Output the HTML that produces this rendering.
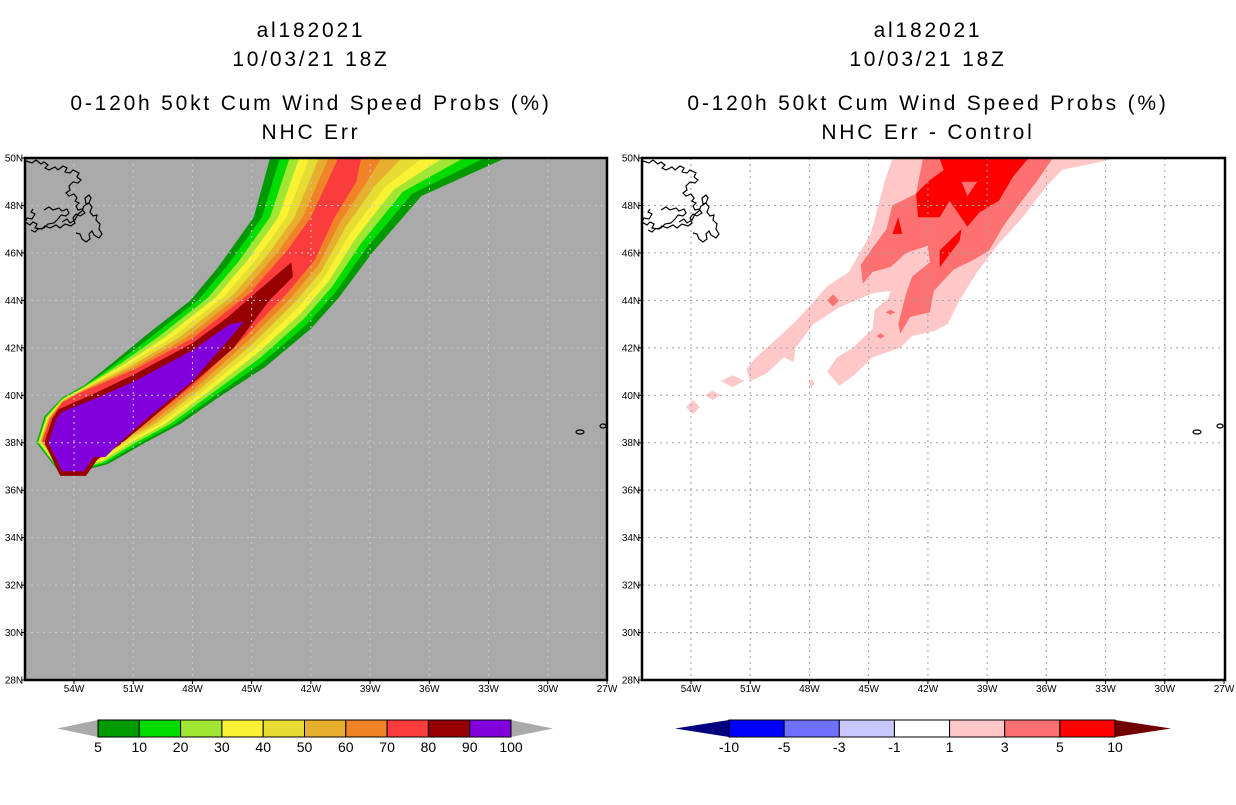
<!DOCTYPE html>
<html><head><meta charset="utf-8">
<style>
html,body{margin:0;padding:0;background:#fff;}
body{width:1236px;height:800px;overflow:hidden;font-family:"Liberation Sans",sans-serif;}
svg text{font-family:"Liberation Sans",sans-serif;}
</style></head>
<body>
<svg id="main" width="1236" height="800" viewBox="0 0 1236 800" xmlns="http://www.w3.org/2000/svg">
<defs>
<clipPath id="clipL"><rect x="25" y="158" width="582" height="522"/></clipPath>
<clipPath id="clipR"><rect x="642" y="158" width="583" height="522"/></clipPath>
</defs>
<g font-size="21" text-anchor="middle" fill="#000" letter-spacing="2.8">
<text x="311" y="37">al182021</text>
<text x="311" y="66">10/03/21 18Z</text>
<text x="311" y="110">0-120h 50kt Cum Wind Speed Probs (%)</text>
<text x="311" y="139">NHC Err</text>
</g>
<g font-size="21" text-anchor="middle" fill="#000" letter-spacing="2.8">
<text x="928" y="37">al182021</text>
<text x="928" y="66">10/03/21 18Z</text>
<text x="928" y="110">0-120h 50kt Cum Wind Speed Probs (%)</text>
<text x="928" y="139">NHC Err - Control</text>
</g>
<rect x="25" y="158" width="582" height="522" fill="#aaaaaa"/>
<rect x="642" y="158" width="583" height="522" fill="#ffffff"/>
<g id="leftFill" clip-path="url(#clipL)"></g>
<g id="rightFill" clip-path="url(#clipR)"></g>
<g id="grid"></g>
<g id="coast"></g>
<rect x="25" y="158" width="582" height="522" fill="none" stroke="#000" stroke-width="2.5"/>
<rect x="642" y="158" width="583" height="522" fill="none" stroke="#000" stroke-width="2.5"/>
<g id="axes"></g>
<g id="cbars"></g>
</svg>
<script>
// ---- data (lon, lat) ----
const lonTicks = [-54,-51,-48,-45,-42,-39,-36,-33,-30,-27];
const lonLabels = ["54W","51W","48W","45W","42W","39W","36W","33W","30W","27W"];
const latTicks = [28,30,32,34,36,38,40,42,44,46,48,50];
const latLabels = ["28N","30N","32N","34N","36N","38N","40N","42N","44N","46N","48N","50N"];
// left: 5% envelope and 70% envelope, tip -> north
const outerLeftEdge = [[-55.9,38.0],[-55.5,39.1],[-54.6,39.9],[-53.5,40.4],[-52.0,41.4],[-50.4,42.5],[-48.1,44.0],[-46.7,45.4],[-44.9,47.5],[-44.0,50.2]];
const redLeftEdge = [[-55.6,38.1],[-55.2,39.0],[-54.6,39.7],[-53.7,40.1],[-50.9,41.1],[-48.0,42.4],[-45.1,44.3],[-43.2,46.1],[-42.0,47.5],[-40.5,50.2]];
const outerRightEdge = [[-54.6,36.6],[-52.3,37.1],[-50.4,38.0],[-48.6,38.8],[-46.7,39.9],[-44.3,41.2],[-42.0,42.8],[-40.6,44.1],[-38.9,46.0],[-36.4,48.4],[-31.6,50.2]];
const redRightEdge = [[-54.6,36.9],[-53.0,37.4],[-52.1,38.0],[-50.4,38.8],[-48.0,40.4],[-45.3,42.5],[-43.2,44.3],[-41.8,45.7],[-40.8,47.5],[-39.7,49.0],[-39.4,50.2]];
const darkRedArea = [[-43.0,45.6],[-42.9,45.0],[-44.1,44.0],[-45.9,42.0],[-48.0,40.5],[-50.4,38.8],[-51.7,37.9],[-52.8,37.3],[-53.4,36.6],[-54.7,36.6],[-55.5,38.0],[-55.1,39.0],[-54.8,39.4],[-52.9,40.1],[-50.9,40.9],[-48.0,42.2],[-46.2,43.3],[-45.1,44.1]];
const purpleArea = [[-54.6,39.3],[-52.8,39.9],[-50.9,40.6],[-48.0,41.9],[-46.1,43.0],[-45.4,43.1],[-46.0,42.5],[-48.0,40.6],[-50.2,39.1],[-51.7,38.0],[-52.4,37.4],[-53.0,37.4],[-53.5,36.8],[-54.6,36.8],[-55.3,38.0],[-54.9,39.0]];
const probLevels = [5,10,20,30,40,50,60,70];
const probColors = ["#009a00","#00dc00","#a0e632","#f8f232","#e6dc32","#e6af2d","#f08228","#fa3c3c"];
// right: difference areas
const pinkArea = [[-43.7,50.2],[-44.2,49.0],[-44.9,46.8],[-46.0,45.2],[-47.1,44.6],[-48.6,43.2],[-49.5,42.5],[-50.7,41.6],[-51.2,41.1],[-51.0,40.6],[-50.2,40.9],[-49.3,41.6],[-48.8,41.4],[-48.7,42.0],[-47.8,43.0],[-46.5,43.7],[-44.8,44.3],[-43.9,44.4],[-44.0,44.1],[-44.7,43.6],[-44.8,42.8],[-45.8,42.0],[-46.6,41.6],[-47.1,41.0],[-46.5,40.4],[-45.8,40.8],[-44.8,41.6],[-43.4,42.0],[-42.8,42.5],[-41.7,42.7],[-41.0,43.0],[-40.4,44.0],[-39.5,45.2],[-38.5,46.3],[-37.2,47.5],[-36.0,48.8],[-35.2,49.5],[-32.9,49.9],[-32.1,50.2]];
const pinkBlobs = [[-53.9,39.5,0.35,0.3],[-52.9,40.0,0.4,0.2],[-51.9,40.6,0.6,0.25],[-47.9,40.5,0.15,0.2]];
const salmonArea = [[-42.2,50.2],[-42.6,48.5],[-43.8,48.0],[-44.1,47.0],[-44.9,46.1],[-45.4,45.5],[-45.3,44.7],[-44.8,45.2],[-43.9,45.4],[-43.1,46.0],[-42.0,46.3],[-41.9,45.6],[-42.8,45.0],[-43.1,44.3],[-43.5,43.0],[-43.4,42.6],[-42.9,43.3],[-41.9,43.5],[-41.7,44.4],[-40.7,45.3],[-39.7,45.7],[-38.9,46.1],[-38.2,47.1],[-37.5,47.9],[-36.5,49.0],[-35.5,50.2]];
const salmonBlobs = [[-46.8,44.0,0.3,0.25],[-43.9,43.5,0.25,0.1],[-44.4,42.5,0.2,0.12]];
const redArea = [[-41.5,50.2],[-41.2,49.5],[-42.0,49.0],[-42.6,48.5],[-42.5,47.5],[-41.4,47.5],[-40.9,48.2],[-40.0,47.1],[-39.4,47.7],[-38.4,48.2],[-37.7,49.2],[-36.7,50.2]];
const redHole = [[-40.3,49.0],[-39.5,49.0],[-40.0,48.4]];
const redSpots = [[[-43.5,47.5],[-43.8,46.8],[-43.3,46.8]],[[-41.4,46.1],[-40.3,47.0],[-40.4,46.5],[-41.4,45.4]]];
const leftCbarLabels = ["5","10","20","30","40","50","60","70","80","90","100"];
const leftCbarColors = ["#009a00","#00dc00","#a0e632","#f8f232","#e6dc32","#e6af2d","#f08228","#fa3c3c","#960000","#8200dc"];
const rightCbarLabels = ["-10","-5","-3","-1","1","3","5","10"];
const rightCbarColors = ["#0000ff","#7070ff","#c8c8ff","#ffffff","#ffc8c8","#ff7070","#ff0000"];

// ---- projection ----
const NS="http://www.w3.org/2000/svg";
function xL(lon){return 607+(lon+27)*19.74;}
function xR(lon){return 1224+(lon+27)*19.74;}
function yy(lat){return 680-(lat-28)*23.727;}
function mk(tag,attrs,parent){const e=document.createElementNS(NS,tag);for(const k in attrs)e.setAttribute(k,attrs[k]);parent.appendChild(e);return e;}
function pts(arr,fx){return arr.map(p=>fx(p[0]).toFixed(1)+","+yy(p[1]).toFixed(1)).join(" ");}
function lerp(a,b,t){return a.map((p,i)=>[p[0]+(b[i][0]-p[0])*t,p[1]+(b[i][1]-p[1])*t]);}

const LF=document.getElementById('leftFill');
probLevels.forEach((lev,i)=>{
  const t=i/(probLevels.length-1);
  const L=lerp(outerLeftEdge,redLeftEdge,t);
  const R=lerp(outerRightEdge,redRightEdge,t);
  const poly=L.concat(R.slice().reverse());
  const el=mk('polygon',{points:pts(poly,xL),fill:probColors[i]},LF);
  
  
});
let e1=mk('polygon',{points:pts(darkRedArea,xL),fill:"#960000"},LF);


let e2=mk('polygon',{points:pts(purpleArea,xL),fill:"#8200dc"},LF);



const RF=document.getElementById('rightFill');
function blob(b,col,nm){
  const d=[[b[0]-b[2],b[1]],[b[0],b[1]+b[3]],[b[0]+b[2],b[1]],[b[0],b[1]-b[3]]];
  const el=mk('polygon',{points:pts(d,xR),fill:col},RF);
  
  
}
let r1=mk('polygon',{points:pts(pinkArea,xR),fill:"#ffc8c8"},RF);


pinkBlobs.forEach(b=>blob(b,"#ffc8c8",'diff-spot-1-3'));
let r2=mk('polygon',{points:pts(salmonArea,xR),fill:"#ff7070"},RF);


salmonBlobs.forEach(b=>blob(b,"#ff7070",'diff-spot-3-5'));
let r3=mk('polygon',{points:pts(redArea,xR),fill:"#ff0000"},RF);


let r4=mk('polygon',{points:pts(redHole,xR),fill:"#ff7070"},RF);


redSpots.forEach(s=>{
  const el=mk('polygon',{points:pts(s,xR),fill:"#ff0000"},RF);
  
  
});

// grid
const G=document.getElementById('grid');
[[xL,25,607,"#c8c8c8"],[xR,642,1225,"#a0a0a0"]].forEach(([fx,x0,x1,col])=>{
  lonTicks.slice(0,-1).forEach(lon=>{
    const l=mk('line',{x1:fx(lon),x2:fx(lon),y1:158,y2:680,stroke:col,'stroke-width':1,'stroke-dasharray':'2,4'},G);
    
    
  });
  latTicks.slice(1,-1).forEach(lat=>{
    const l=mk('line',{x1:x0,x2:x1,y1:yy(lat),y2:yy(lat),stroke:col,'stroke-width':1,'stroke-dasharray':'2,4'},G);
    
    
  });
});

// coastlines (Newfoundland + Azores)
const C=document.getElementById('coast');
const nfl="M26,161 l6,2 4,-3 5,4 3,-2 4,3 -3,3 4,2 6,-3 3,3 5,-4 4,2 -2,4 5,1 3,-3 6,3 -2,4 4,3 -3,3 -5,-1 -4,4 1,4 -4,3 3,3 5,-2 3,4 -2,3 4,2 -3,3 2,4 4,-1 3,4 -5,3 -4,-2 -3,4 2,5 -4,3 -6,-2 -5,4 -4,-3 -6,3 -5,-2 -3,3 -7,-1 2,-4 -4,-2 -3,3 -5,-3 2,-4 5,1 3,-5 -4,-2 2,-3 M44,210 l5,-3 4,3 6,-2 3,3 5,-2 2,4 -3,3 -5,-1 -3,4 -4,4 -6,1 -4,4 -6,1 -3,3 -4,-2 M62,222 l5,-3 3,4 5,-3 3,-6 4,-3 2,-5 5,-3 3,4 -2,5 3,4 4,-1 -1,5 4,4 -1,5 3,5 -3,4 -5,-3 -2,-4 -3,3 1,5 -4,3 -4,-3 -2,-5 -4,-1 M85,198 l4,-3 2,3 -2,5 -3,1 z";
let c1=mk('path',{d:nfl,fill:"none",stroke:"#000","stroke-width":1.2},C);


let c2=mk('path',{d:nfl,fill:"none",stroke:"#000","stroke-width":1.2,transform:"translate(617,0)"},C);


[0,617].forEach(dx=>{
  const a=mk('ellipse',{cx:580+dx,cy:432,rx:4,ry:2,fill:"none",stroke:"#000","stroke-width":1.2},C);
  
  
  const b=mk('ellipse',{cx:603+dx,cy:426,rx:3,ry:2,fill:"none",stroke:"#000","stroke-width":1.2},C);
  
  
});

// axis labels
const A=document.getElementById('axes');
[[xL,25,14],[xR,642,631]].forEach(([fx,x0,lx])=>{
  lonTicks.forEach((lon,i)=>{
    const t=mk('text',{x:fx(lon),y:692,'font-size':10,'text-anchor':'middle',fill:'#000'},A);
    t.textContent=lonLabels[i];
    
    
    mk('line',{x1:fx(lon),x2:fx(lon),y1:680,y2:684,stroke:'#000','stroke-width':1},A);
  });
  latTicks.forEach((lat,i)=>{
    const t=mk('text',{x:lx,y:yy(lat)+3.5,'font-size':10,'text-anchor':'middle',fill:'#000'},A);
    t.textContent=latLabels[i];
    
    
    mk('line',{x1:x0-4,x2:x0,y1:yy(lat),y2:yy(lat),stroke:'#000','stroke-width':1},A);
  });
});

// colorbars
const CB=document.getElementById('cbars');
function cbar(x0,x1,tipL,tipR,cols,labels,triL,triR,nm){
  const n=cols.length,w=(x1-x0)/n,yt=720,yb=737,ym=728.5;
  let t1=mk('polygon',{points:`${tipL},${ym} ${x0},${yt} ${x0},${yb}`,fill:triL},CB);
  
  
  let t2=mk('polygon',{points:`${tipR},${ym} ${x1},${yt} ${x1},${yb}`,fill:triR},CB);
  
  
  cols.forEach((c,i)=>{
    const r=mk('rect',{x:x0+i*w,y:yt,width:w,height:yb-yt,fill:c,stroke:'#000','stroke-width':1},CB);
    
    
  });
  labels.forEach((s,i)=>{
    const t=mk('text',{x:x0+i*w,y:752,'font-size':14,'text-anchor':'middle',fill:'#000'},CB);
    t.textContent=s;
    
    
  });
}
cbar(98,511,57,553,leftCbarColors,leftCbarLabels,"#aaaaaa","#aaaaaa",'prob-colorbar');
cbar(729,1115,675,1171,rightCbarColors,rightCbarLabels,"#000080","#700000",'diff-colorbar');
</script>
</body></html>
